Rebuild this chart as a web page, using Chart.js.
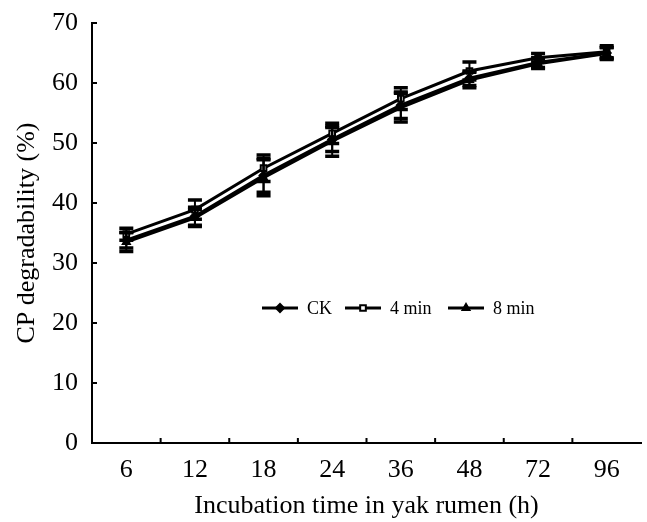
<!DOCTYPE html>
<html>
<head>
<meta charset="utf-8">
<script src="https://cdn.jsdelivr.net/npm/chart.js@4/dist/chart.umd.min.js"></script>
<style>
  html, body { margin: 0; padding: 0; background: #fff; }
  canvas { display: block; }
</style>
</head>
<body>
<canvas id="grafico" width="647" height="522"></canvas>
<script>
// dados
const horas = ['6', '12', '18', '24', '36', '48', '72', '96'];
const ck = [33.8, 37.8, 44.6, 50.6, 56.3, 60.8, 63.4, 65.0];
const min4 = [34.8, 38.9, 45.8, 51.6, 57.4, 62.0, 64.2, 65.2];
const min8 = [33.5, 37.5, 44.2, 50.3, 55.9, 60.5, 63.2, 64.9];
const ckErro = [1.3, 1.5, 2.8, 2.0, 2.2, 1.2, 0.8, 0.9];
const min4Erro = [1.0, 1.6, 2.2, 1.7, 1.8, 1.5, 0.7, 1.0];
const min8Erro = [1.6, 1.4, 3.0, 2.5, 2.4, 1.3, 0.8, 1.0];
const ticksY = [0, 10, 20, 30, 40, 50, 60, 70];

const FONTE = "'Liberation Serif', 'Times New Roman', serif";

const series = [
    { label: 'CK', data: ck, erro: ckErro, estilo: 'rectRot', fundo: '#000' },
    { label: '4 min', data: min4, erro: min4Erro, estilo: 'rect', fundo: '#fff' },
    { label: '8 min', data: min8, erro: min8Erro, estilo: 'triangle', fundo: '#000' }
];

// barras de erro + ticks internos dos eixos + legenda
const pluginExtras = {
    id: 'extras',
    afterDatasetsDraw(chart) {
        const { ctx, scales: { x, y } } = chart;
        ctx.save();
        ctx.strokeStyle = '#000';
        series.forEach((s) => {
            s.data.forEach((v, i) => {
                const px = x.getPixelForValue(i);
                const topo = y.getPixelForValue(v + s.erro[i]);
                const base = y.getPixelForValue(v - s.erro[i]);
                ctx.lineWidth = 2;
                ctx.beginPath();
                ctx.moveTo(px, topo); ctx.lineTo(px, base);
                ctx.stroke();
                ctx.lineWidth = 3.5;
                ctx.beginPath();
                ctx.moveTo(px - 7, topo); ctx.lineTo(px + 7, topo);
                ctx.moveTo(px - 7, base); ctx.lineTo(px + 7, base);
                ctx.stroke();
            });
        });
        // ticks
        ctx.lineWidth = 2;
        ctx.beginPath();
        ticksY.forEach((t) => {
            const py = y.getPixelForValue(t);
            ctx.moveTo(x.left, py); ctx.lineTo(x.left + 5, py);
        });
        for (let i = 0; i < horas.length - 1; i++) {
            const px = (x.getPixelForValue(i) + x.getPixelForValue(i + 1)) / 2;
            ctx.moveTo(px, y.bottom); ctx.lineTo(px, y.bottom - 5);
        }
        ctx.stroke();

        // legenda
        const posLegenda = [262, 345, 448];
        const yLeg = 308;
        ctx.font = '18px ' + FONTE;
        ctx.textBaseline = 'middle';
        series.forEach((s, i) => {
            const x0 = posLegenda[i];
            ctx.strokeStyle = '#000';
            ctx.lineWidth = 3;
            ctx.beginPath();
            ctx.moveTo(x0, yLeg); ctx.lineTo(x0 + 36, yLeg);
            ctx.stroke();
            ctx.fillStyle = s.fundo;
            ctx.lineWidth = 2;
            Chart.helpers.drawPoint(ctx, { pointStyle: s.estilo, radius: 4, rotation: 0, borderWidth: 2 }, x0 + 18, yLeg);
            ctx.fillStyle = '#000';
            ctx.fillText(s.label, x0 + 45, yLeg + 1);
        });
        ctx.restore();
    }
};

const ctx = document.getElementById('grafico').getContext('2d');
new Chart(ctx, {
    type: 'line',
    data: {
        labels: horas,
        datasets: series.map((s) => ({
            label: s.label,
            data: s.data,
            borderColor: '#000',
            borderWidth: 3,
            pointStyle: s.estilo,
            pointRadius: 4,
            pointBorderWidth: 2,
            pointBackgroundColor: s.fundo,
            pointBorderColor: '#000',
            tension: 0,
            fill: false
        }))
    },
    options: {
        responsive: false,
        animation: false,
        layout: { padding: { top: 23, right: 3, left: 0, bottom: 0 } },
        plugins: { legend: { display: false }, tooltip: { enabled: false } },
        scales: {
            x: {
                offset: true,
                grid: { display: false, offset: true },
                border: { display: true, color: '#000', width: 2 },
                ticks: { color: '#000', font: { family: FONTE, size: 26 }, padding: 4, maxRotation: 0 },
                title: { display: true, text: 'Incubation time in yak rumen (h)', color: '#000', font: { family: FONTE, size: 26 }, padding: { top: 2, bottom: 0 } },
                afterFit(scale) { scale.height = 79; }
            },
            y: {
                min: 0, max: 70,
                afterBuildTicks(scale) { scale.ticks = ticksY.map((v) => ({ value: v })); },
                grid: { display: false },
                border: { display: true, color: '#000', width: 2 },
                ticks: { color: '#000', font: { family: FONTE, size: 26 }, padding: 6 },
                title: { display: true, text: 'CP degradability (%)', color: '#000', font: { family: FONTE, size: 26 }, padding: { top: 12, bottom: 4 } },
                afterFit(scale) { scale.width = 92; }
            }
        }
    },
    plugins: [pluginExtras]
});
</script>
</body>
</html>
